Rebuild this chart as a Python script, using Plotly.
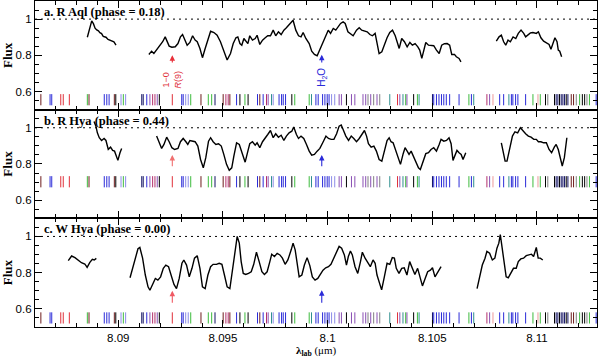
import plotly.graph_objects as go
from plotly.subplots import make_subplots

# ---- spectra: wavelength (micron) and normalised flux, None = gap ----
raql_wl = [8.08852, 8.08862, 8.08873, 8.08881, 8.08889, 8.08897, 8.08905, 8.08912, 8.08920, 8.08928,
           8.08941, 8.08951, 8.08960, 8.08970, 8.08979, 8.08989, None,
           8.09146, 8.09159, 8.09170, 8.09186, 8.09199, 8.09212, 8.09224, 8.09234, 8.09243, 8.09256,
           8.09272, 8.09285, 8.09297, 8.09307, 8.09320, 8.09329, 8.09342, 8.09355, 8.09367, 8.09377,
           8.09390, 8.09402, 8.09415, 8.09428, 8.09441, 8.09457, 8.09472, 8.09488, 8.09504, 8.09520,
           8.09536, 8.09549, 8.09562, 8.09571, 8.09581, 8.09590, 8.09600, 8.09609, 8.09619, 8.09628,
           8.09641, 8.09654, 8.09663, 8.09676, 8.09689, 8.09702, 8.09714, 8.09727, 8.09740, 8.09752,
           8.09765, 8.09778, 8.09791, 8.09803, 8.09819, 8.09835, 8.09848, 8.09861, 8.09873, 8.09883,
           8.09896, 8.09912, 8.09924, 8.09937, 8.09950, 8.09963, 8.09979, 8.09992, 8.10003, 8.10014,
           8.10027, 8.10039, 8.10052, 8.10062, 8.10074, 8.10084, 8.10097, 8.10109, 8.10122, 8.10138,
           8.10151, 8.10163, 8.10176, 8.10189, 8.10202, 8.10214, 8.10227, 8.10237, 8.10246, 8.10259,
           8.10272, 8.10284, 8.10297, 8.10310, 8.10323, 8.10332, 8.10342, 8.10354, 8.10367, 8.10380,
           8.10393, 8.10405, 8.10418, 8.10431, 8.10440, 8.10450, 8.10459, 8.10469, 8.10482, 8.10494,
           8.10507, 8.10520, 8.10533, 8.10545, 8.10558, 8.10571, 8.10583, 8.10593, 8.10606, 8.10615,
           8.10628, 8.10637, None,
           8.10806, 8.10819, 8.10830, 8.10841, 8.10851, 8.10862, 8.10873, 8.10886, 8.10899, 8.10911,
           8.10924, 8.10937, 8.10946, 8.10957, 8.10969, 8.10981, 8.10997, 8.11007, 8.11019, 8.11032,
           8.11045, 8.11058, 8.11067, 8.11077, 8.11086, 8.11096, 8.11102, 8.11109, 8.11118]
raql_fx = [0.900, 0.950, 0.990, 0.975, 0.950, 0.940, 0.935, 0.925, 0.920, 0.905,
           0.900, 0.888, 0.885, 0.878, 0.875, 0.857, None,
           0.805, 0.823, 0.810, 0.834, 0.856, 0.875, 0.902, 0.875, 0.851, 0.845,
           0.847, 0.865, 0.902, 0.915, 0.884, 0.856, 0.871, 0.908, 0.884, 0.875,
           0.838, 0.787, 0.838, 0.893, 0.933, 0.926, 0.911, 0.875, 0.820, 0.774,
           0.810, 0.865, 0.897, 0.902, 0.865, 0.856, 0.893, 0.878, 0.865, 0.908,
           0.884, 0.893, 0.911, 0.860, 0.884, 0.897, 0.908, 0.908, 0.939, 0.908,
           0.930, 0.915, 0.939, 0.952, 0.976, 0.994, 0.939, 0.908, 0.902, 0.926,
           0.893, 0.865, 0.823, 0.805, 0.798, 0.835, 0.875, 0.911, 0.939, 0.921,
           0.948, 0.939, 0.963, 0.976, 0.985, 0.976, 0.930, 0.921, 0.908, 0.939,
           0.952, 0.939, 0.933, 0.930, 0.915, 0.908, 0.921, 0.865, 0.810, 0.820,
           0.865, 0.897, 0.926, 0.939, 0.908, 0.875, 0.838, 0.893, 0.875, 0.847,
           0.871, 0.856, 0.865, 0.847, 0.829, 0.783, 0.820, 0.871, 0.856, 0.853,
           0.853, 0.829, 0.810, 0.856, 0.864, 0.865, 0.856, 0.805, 0.805, 0.792,
           0.783, 0.764, None,
           0.878, 0.902, 0.911, 0.875, 0.856, 0.884, 0.875, 0.902, 0.893, 0.921,
           0.939, 0.921, 0.902, 0.915, 0.924, 0.926, 0.921, 0.930, 0.897, 0.878,
           0.871, 0.860, 0.834, 0.865, 0.897, 0.875, 0.829, 0.823, 0.792]

rhya_wl = [8.08884, 8.08893, 8.08900, 8.08909, 8.08920, 8.08932, 8.08941, 8.08952, 8.08963, 8.08973,
           8.08982, 8.08989, 8.08998, 8.09008, 8.09016, None,
           8.09183, 8.09196, 8.09207, 8.09218, 8.09231, 8.09243, 8.09256, 8.09269, 8.09285, 8.09297,
           8.09310, 8.09323, 8.09332, 8.09342, 8.09355, 8.09367, 8.09380, 8.09393, 8.09406, 8.09418,
           8.09431, 8.09441, 8.09453, 8.09466, 8.09479, 8.09492, 8.09504, 8.09517, 8.09530, 8.09542,
           8.09552, 8.09565, 8.09578, 8.09587, 8.09597, 8.09606, 8.09619, 8.09628, 8.09641, 8.09654,
           8.09663, 8.09676, 8.09689, 8.09702, 8.09714, 8.09727, 8.09740, 8.09752, 8.09765, 8.09778,
           8.09791, 8.09803, 8.09816, 8.09829, 8.09838, 8.09851, 8.09861, 8.09873, 8.09886, 8.09899,
           8.09912, 8.09924, 8.09937, 8.09950, 8.09963, 8.09979, 8.09992, 8.10004, 8.10017, 8.10030,
           8.10043, 8.10055, 8.10065, 8.10074, 8.10087, 8.10100, 8.10113, 8.10125, 8.10138, 8.10151,
           8.10163, 8.10176, 8.10186, 8.10195, 8.10208, 8.10221, 8.10233, 8.10246, 8.10259, 8.10272,
           8.10284, 8.10294, 8.10303, 8.10313, 8.10326, 8.10338, 8.10348, 8.10361, 8.10370, 8.10380,
           8.10389, 8.10399, 8.10412, 8.10424, 8.10434, 8.10443, 8.10456, 8.10469, 8.10482, 8.10494,
           8.10507, 8.10520, 8.10533, 8.10542, 8.10555, 8.10568, 8.10580, 8.10590, 8.10599, 8.10609,
           8.10618, 8.10628, 8.10638, 8.10647, 8.10660, None,
           8.10830, 8.10838, 8.10848, 8.10857, 8.10870, 8.10883, 8.10895, 8.10908, 8.10921, 8.10934,
           8.10946, 8.10959, 8.10972, 8.10985, 8.10997, 8.11007, 8.11019, 8.11032, 8.11045, 8.11058,
           8.11070, 8.11083, 8.11092, 8.11102, 8.11111, 8.11121, 8.11131, 8.11137, 8.11143]
rhya_fx = [1.035, 1.009, 0.972, 0.945, 0.930, 0.941, 0.930, 0.881, 0.893, 0.875,
           0.871, 0.853, 0.820, 0.862, 0.886, None,
           0.954, 0.917, 0.886, 0.908, 0.948, 0.923, 0.890, 0.880, 0.886, 0.923,
           0.941, 0.923, 0.908, 0.930, 0.926, 0.923, 0.899, 0.825, 0.779, 0.835,
           0.926, 0.945, 0.923, 0.908, 0.912, 0.899, 0.853, 0.798, 0.765, 0.779,
           0.844, 0.917, 0.908, 0.880, 0.844, 0.810, 0.871, 0.912, 0.923, 0.904,
           0.917, 0.890, 0.923, 0.941, 0.963, 0.985, 0.945, 0.967, 0.948, 0.959,
           0.930, 0.954, 0.972, 0.981, 1.004, 0.963, 0.941, 0.954, 0.941, 0.908,
           0.871, 0.849, 0.853, 0.871, 0.886, 0.923, 0.954, 0.941, 0.936, 0.936,
           0.967, 1.009, 1.015, 0.991, 0.954, 0.930, 0.954, 0.941, 0.923, 0.941,
           0.963, 0.985, 0.954, 0.912, 0.893, 0.899, 0.871, 0.825, 0.816, 0.871,
           0.930, 0.945, 0.923, 0.917, 0.871, 0.825, 0.798, 0.857, 0.890, 0.871,
           0.853, 0.871, 0.838, 0.798, 0.779, 0.770, 0.816, 0.857, 0.862, 0.880,
           0.890, 0.871, 0.908, 0.936, 0.926, 0.930, 0.945, 0.912, 0.820, 0.849,
           0.875, 0.862, 0.853, 0.825, 0.862, None,
           0.917, 0.871, 0.816, 0.816, 0.890, 0.954, 0.978, 0.972, 1.000, 0.981,
           0.967, 0.954, 0.948, 0.936, 0.936, 0.923, 0.923, 0.917, 0.917, 0.880,
           0.862, 0.893, 0.908, 0.880, 0.838, 0.789, 0.835, 0.890, 0.945]

whya_wl = [8.08761, 8.08777, 8.08793, 8.08809, 8.08824, 8.08840, 8.08851, 8.08864, 8.08876, 8.08885,
           8.08895, None,
           8.09056, 8.09068, 8.09081, 8.09094, 8.09103, 8.09116, 8.09129, 8.09142, 8.09151, 8.09164,
           8.09177, 8.09189, 8.09202, 8.09215, 8.09227, 8.09240, 8.09253, 8.09266, 8.09278, 8.09291,
           8.09304, 8.09313, 8.09326, 8.09339, 8.09352, 8.09364, 8.09377, 8.09390, 8.09402, 8.09415,
           8.09428, 8.09441, 8.09453, 8.09469, 8.09482, 8.09495, 8.09507, 8.09520, 8.09533, 8.09546,
           8.09558, 8.09568, 8.09578, 8.09587, 8.09597, 8.09609, 8.09622, 8.09635, 8.09647, 8.09660,
           8.09673, 8.09686, 8.09698, 8.09711, 8.09724, 8.09733, 8.09746, 8.09759, 8.09772, 8.09784,
           8.09797, 8.09810, 8.09826, 8.09835, 8.09845, 8.09854, 8.09864, 8.09877, 8.09889, 8.09902,
           8.09915, 8.09927, 8.09940, 8.09953, 8.09966, 8.09978, 8.09991, 8.10004, 8.10016, 8.10029,
           8.10042, 8.10055, 8.10067, 8.10080, 8.10090, 8.10099, 8.10109, 8.10118, 8.10131, 8.10144,
           8.10157, 8.10166, 8.10179, 8.10192, 8.10204, 8.10217, 8.10227, 8.10236, 8.10249, 8.10258,
           8.10271, 8.10284, 8.10297, 8.10309, 8.10319, 8.10328, 8.10341, 8.10354, 8.10366, 8.10379,
           8.10392, 8.10405, 8.10417, 8.10430, 8.10443, 8.10453, 8.10466, 8.10478, 8.10491, 8.10501,
           8.10513, 8.10526, 8.10542, None,
           8.10714, 8.10726, 8.10739, 8.10752, 8.10761, 8.10774, 8.10787, 8.10799, 8.10809, 8.10818,
           8.10825, 8.10834, 8.10844, 8.10853, 8.10863, 8.10876, 8.10888, 8.10901, 8.10911, 8.10923,
           8.10936, 8.10949, 8.10961, 8.10974, 8.10984, 8.10990, 8.10997, 8.11006, 8.11016, 8.11028]
whya_fx = [0.866, 0.892, 0.883, 0.866, 0.855, 0.848, 0.829, 0.857, 0.874, 0.870,
           0.879, None,
           0.772, 0.824, 0.889, 0.932, 0.939, 0.880, 0.787, 0.722, 0.703, 0.740,
           0.768, 0.759, 0.777, 0.824, 0.842, 0.833, 0.787, 0.735, 0.712, 0.768,
           0.852, 0.870, 0.842, 0.777, 0.824, 0.880, 0.894, 0.824, 0.722, 0.712,
           0.787, 0.833, 0.846, 0.846, 0.852, 0.846, 0.787, 0.722, 0.712, 0.824,
           0.935, 1.000, 0.963, 0.861, 0.796, 0.790, 0.796, 0.805, 0.846, 0.913,
           0.861, 0.805, 0.790, 0.805, 0.861, 0.902, 0.889, 0.907, 0.898, 0.880,
           0.846, 0.870, 0.926, 0.963, 0.926, 0.842, 0.777, 0.787, 0.842, 0.883,
           0.839, 0.777, 0.759, 0.768, 0.790, 0.814, 0.827, 0.833, 0.846, 0.880,
           0.917, 0.945, 0.935, 0.898, 0.842, 0.889, 0.920, 0.898, 0.833, 0.796,
           0.861, 0.913, 0.880, 0.852, 0.833, 0.870, 0.852, 0.787, 0.740, 0.705,
           0.777, 0.852, 0.846, 0.883, 0.880, 0.824, 0.796, 0.824, 0.827, 0.787,
           0.861, 0.824, 0.790, 0.824, 0.768, 0.727, 0.768, 0.805, 0.814, 0.827,
           0.777, 0.805, 0.833, None,
           0.712, 0.768, 0.842, 0.880, 0.917, 0.907, 0.870, 0.880, 0.935, 0.963,
           1.010, 0.935, 0.842, 0.777, 0.772, 0.796, 0.824, 0.824, 0.861, 0.876,
           0.880, 0.894, 0.898, 0.902, 0.889, 0.917, 0.939, 0.880, 0.880, 0.870]

# ---- line list (wavelength, colour code) ----
line_wl = [8.08630, 8.08674, 8.08682, 8.08725, 8.08737, 8.08766, 8.08852, 8.08860, 8.08933, 8.08945,
           8.08956, 8.08981, 8.08988, 8.09013, 8.09024, 8.09035, 8.09112, 8.09119, 8.09136, 8.09151,
           8.09164, 8.09175, 8.09186, 8.09196, 8.09258, 8.09303, 8.09310, 8.09322, 8.09334, 8.09346,
           8.09395, 8.09430, 8.09446, 8.09462, 8.09501, 8.09514, 8.09525, 8.09533, 8.09565, 8.09581,
           8.09605, 8.09620, 8.09665, 8.09676, 8.09692, 8.09708, 8.09716, 8.09732, 8.09740, 8.09768,
           8.09780, 8.09788, 8.09799, 8.09829, 8.09843, 8.09912, 8.09923, 8.09944, 8.09955, 8.09976,
           8.09987, 8.09998, 8.10007, 8.10019, 8.10034, 8.10055, 8.10066, 8.10090, 8.10114, 8.10130,
           8.10169, 8.10182, 8.10193, 8.10206, 8.10220, 8.10236, 8.10249, 8.10297, 8.10334, 8.10345,
           8.10360, 8.10373, 8.10379, 8.10411, 8.10429, 8.10437, 8.10501, 8.10507, 8.10520, 8.10532,
           8.10544, 8.10555, 8.10567, 8.10583, 8.10628, 8.10675, 8.10687, 8.10698, 8.10761, 8.10774,
           8.10790, 8.10822, 8.10841, 8.10866, 8.10878, 8.10885, 8.10898, 8.10909, 8.10946, 8.10981,
           8.11005, 8.11016, 8.11041, 8.11052, 8.11084, 8.11092, 8.11100, 8.11108, 8.11116, 8.11124,
           8.11132, 8.11140, 8.11148, 8.11164, 8.11175, 8.11188, 8.11204, 8.11217, 8.11228, 8.11239,
           8.11251, 8.11283]
line_code = ["dr", "b", "b", "r", "r", "r", "g", "dr", "b", "b",
             "b", "dr", "k", "lb", "g", "lb", "n", "n", "b", "p",
             "m", "m", "p", "k", "r", "b", "b", "lb", "lb", "g",
             "dr", "g", "g", "n", "dr", "m", "m", "dr", "b", "k",
             "g", "k", "b", "dr", "b", "m", "p", "t", "lb", "b",
             "b", "b", "b", "k", "g", "g", "t", "b", "b", "b",
             "b", "b", "b", "lb", "lb", "p", "p", "k", "p", "p",
             "p", "p", "gr", "p", "gr", "p", "gr", "t", "r", "p",
             "t", "g", "p", "k", "g", "t", "n", "b", "b", "b",
             "b", "b", "b", "b", "b", "g", "b", "t", "m", "p",
             "pk", "b", "b", "t", "b", "b", "b", "b", "b", "g",
             "pk", "g", "k", "gr", "k", "n", "n", "k", "n", "n",
             "n", "k", "n", "dr", "dr", "gr", "g", "k", "k", "gr",
             "g", "b"]

panel_labels = ["a. R Aql (phase = 0.18)", "b. R Hya (phase = 0.44)", "c. W Hya (phase = 0.00)"]
co_line = 8.09258     # 1-0 R(9)
h2o_line = 8.09972    # H2O

palette = {"k": "#000000", "b": "#2a2ad8", "lb": "#8c8ce8", "r": "#e0303a", "dr": "#6e1c1c",
           "g": "#3dbb3d", "p": "#8a50b4", "m": "#b3306c", "t": "#2f8f8f", "n": "#121264",
           "gr": "#808080", "pk": "#ec9a9a"}
line_col = [palette[c] for c in line_code]

fig = make_subplots(rows=3, cols=1, shared_xaxes=True, vertical_spacing=0)

spectra = [(raql_wl, raql_fx), (rhya_wl, rhya_fx), (whya_wl, whya_fx)]
tick_level = [0.555, 0.702, 0.55]
arrows = [  # (head, tail) flux for CO and H2O arrows, colour of CO arrow
    ((0.80, 0.752), (0.803, 0.752), "#e8303a"),
    ((0.85, 0.78), (0.85, 0.78), "#f07070"),
    ((0.70, 0.625), (0.703, 0.625), "#f05a64"),
]

for i, (wl, fx) in enumerate(spectra):
    row = i + 1
    fig.add_trace(go.Scatter(x=wl, y=fx, mode="lines", line=dict(color="black", width=1.4),
                             connectgaps=False, showlegend=False, hoverinfo="skip"), row=row, col=1)
    fig.add_trace(go.Scatter(x=line_wl, y=[tick_level[i]] * len(line_wl), mode="markers",
                             marker=dict(symbol="line-ns-open", size=8, color=line_col,
                                         line=dict(width=1)),
                             showlegend=False, hoverinfo="skip"), row=row, col=1)
    fig.add_hline(y=1, line=dict(color="black", width=1, dash="2px,4px"), row=row, col=1)

    xr = "x" if row == 1 else f"x{row}"
    yr = "y" if row == 1 else f"y{row}"
    (co_h, co_t), (h_h, h_t), co_col = arrows[i][0], arrows[i][1], arrows[i][2]
    fig.add_annotation(x=co_line, y=co_h, ax=co_line, ay=co_t, xref=xr, yref=yr, axref=xr, ayref=yr,
                       showarrow=True, arrowhead=2, arrowsize=1, arrowwidth=1.1, arrowcolor=co_col, text="")
    fig.add_annotation(x=h2o_line, y=h_h, ax=h2o_line, ay=h_t, xref=xr, yref=yr, axref=xr, ayref=yr,
                       showarrow=True, arrowhead=2, arrowsize=1, arrowwidth=1.1, arrowcolor="#2a2ad8", text="")
    fig.add_annotation(x=0.012, y=0.9, xref=f"{xr} domain", yref=f"{yr} domain",
                       text=f"<b>{panel_labels[i]}</b>", showarrow=False, xanchor="left", yanchor="middle",
                       font=dict(family="Liberation Serif", size=12.5, color="black"))

# molecule labels (top panel only)
fig.add_annotation(x=co_line, y=0.668, xref="x", yref="y", text="1\u22120<br><i>R</i>(9)", textangle=-90,
                   showarrow=False, font=dict(family="Liberation Sans", size=9, color="#e0303a"))
fig.add_annotation(x=h2o_line, y=0.68, xref="x", yref="y", text="H<sub>2</sub>O", textangle=-90,
                   showarrow=False, font=dict(family="Liberation Sans", size=10, color="#2a2ad8"))

# x-axis title placed just under the tick labels
fig.add_annotation(x=0.5, y=0, xref="paper", yref="paper", yshift=-24, yanchor="middle",
                   text="<b>\u03bb<sub>lab</sub></b> (\u03bcm)", showarrow=False,
                   font=dict(family="Liberation Serif", size=11, color="black"))

axis_common = dict(showline=True, linecolor="black", linewidth=1.2, mirror="allticks",
                   ticks="inside", tickcolor="black", tickwidth=1, showgrid=False, zeroline=False,
                   automargin=False,
                   tickfont=dict(family="Liberation Sans", size=11.5, color="black"))
fig.update_xaxes(range=[8.08602, 8.11287], tick0=8.09, dtick=0.005, ticklen=7,
                 minor=dict(dtick=0.001, ticklen=4, ticks="inside", tickcolor="black"),
                 **axis_common)
fig.update_yaxes(range=[0.5, 1.1], tick0=0.6, dtick=0.2, ticklen=7,
                 minor=dict(dtick=0.05, ticklen=4, ticks="inside", tickcolor="black"),
                 title=dict(text="<b>Flux</b>", standoff=6,
                            font=dict(family="Liberation Serif", size=13, color="black")),
                 **axis_common)

fig.update_layout(width=600, height=357, margin=dict(l=35, r=3, t=1, b=30, autoexpand=False),
                  plot_bgcolor="white", paper_bgcolor="white", showlegend=False)

# page body has a default 8px margin; drop it so the figure sits at the window origin
fig.write_html("out.html", config={"displayModeBar": False},
               post_script="document.body.style.margin='0px';")
